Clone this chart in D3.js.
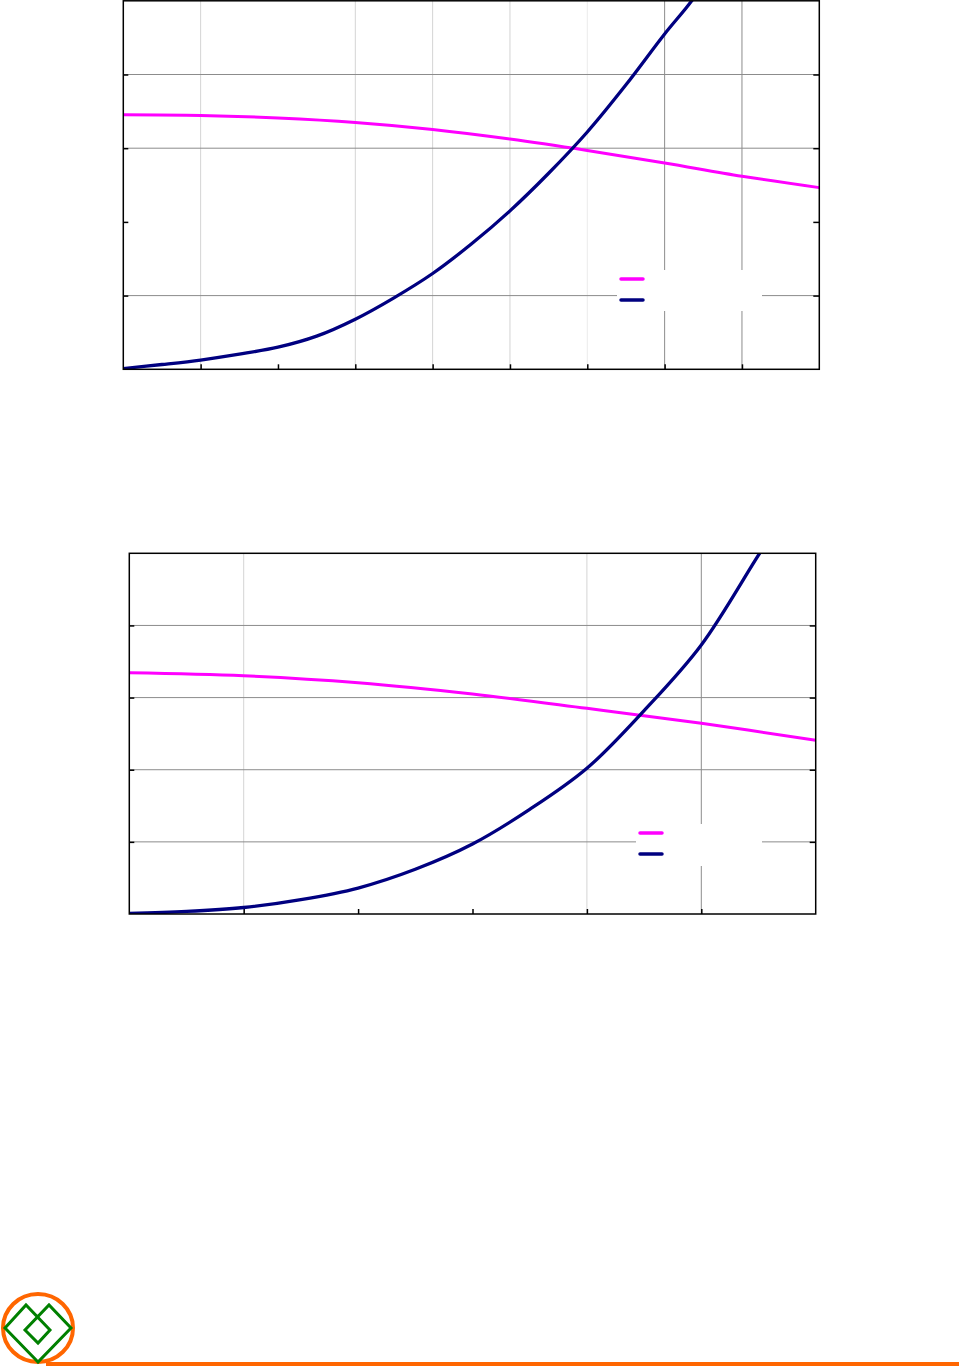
<!DOCTYPE html>
<html>
<head>
<meta charset="utf-8">
<script src="https://cdn.jsdelivr.net/npm/d3@7"></script>
<style>
  body { margin: 0; background: #fff; }
  svg { display: block; }
</style>
</head>
<body>
<div id="chart"></div>
<script>
// chart 1 (top) - values in grid units
var xTop = [0, 0.5, 1, 1.5, 2, 2.5, 3, 3.5, 4, 4.5, 5, 5.5, 6, 6.5, 7, 7.35, 7.6];
var navyTop = [0.01, 0.065, 0.126, 0.205, 0.3, 0.45, 0.68, 0.97, 1.3, 1.7, 2.15, 2.66, 3.22, 3.86, 4.55, 5.0, 5.4];
var magentaTopX = [0, 1, 2, 3, 4, 5, 6, 7, 8, 9];
var magentaTop = [3.455, 3.445, 3.41, 3.35, 3.255, 3.125, 2.97, 2.8, 2.62, 2.465];
var xGridTop = ["light", "none", "light", "light", "light", "faint", "dark", "dark"];
var yGridTop = ["dark", "none", "dark", "dark"];

// chart 2 (bottom)
var xBot = [0, 0.5, 1, 1.5, 2, 2.5, 3, 3.5, 4, 4.5, 5, 5.51, 5.7];
var navyBot = [0.01, 0.035, 0.09, 0.2, 0.36, 0.62, 0.97, 1.45, 2.02, 2.82, 3.73, 5.0, 5.45];
var magentaBotX = [0, 1, 2, 3, 4, 5, 6];
var magentaBot = [3.345, 3.303, 3.206, 3.05, 2.851, 2.643, 2.408];
var xGridBot = ["light", "none", "none", "light", "dark"];
var yGridBot = ["dark", "dark", "dark", "dark"];

var gridColor = { light: "#d4d4d4", faint: "#ececec", dark: "#8c8c8c" };

var svg = d3.select("#chart").append("svg")
  .attr("width", 959)
  .attr("height", 1367);

function drawChart(cfg) {
  var x = d3.scaleLinear().domain([0, cfg.xMax]).range([cfg.left, cfg.right]);
  var y = d3.scaleLinear().domain([0, 5]).range([cfg.bottom, cfg.top]);
  var g = svg.append("g");

  // gridlines
  d3.range(1, cfg.xMax).forEach(function (t, i) {
    var s = cfg.xGrid[i];
    if (s == "none") return;
    g.append("line")
      .attr("x1", x(t)).attr("x2", x(t))
      .attr("y1", y(0)).attr("y2", y(5))
      .attr("stroke", gridColor[s]).attr("stroke-width", 1);
  });
  d3.range(1, 5).forEach(function (t, i) {
    var s = cfg.yGrid[i];
    if (s == "none") return;
    g.append("line")
      .attr("x1", x(0)).attr("x2", x(cfg.xMax))
      .attr("y1", y(t)).attr("y2", y(t))
      .attr("stroke", gridColor[s]).attr("stroke-width", 1);
  });

  // ticks, pointing inside
  g.append("g")
    .attr("transform", "translate(0," + cfg.bottom + ")")
    .call(d3.axisBottom(x).tickValues(d3.range(1, cfg.xMax)).tickSize(-5).tickFormat(""))
    .call(function (a) { a.select(".domain").remove(); a.selectAll("line").attr("stroke-width", 1.5); });
  g.append("g")
    .attr("transform", "translate(" + cfg.left + ",0)")
    .call(d3.axisLeft(y).tickValues([1, 2, 3, 4]).tickSize(-5).tickFormat(""))
    .call(function (a) { a.select(".domain").remove(); a.selectAll("line").attr("stroke-width", 1.5); });
  g.append("g")
    .attr("transform", "translate(" + cfg.right + ",0)")
    .call(d3.axisRight(y).tickValues([1, 2, 3, 4]).tickSize(-6).tickFormat(""))
    .call(function (a) { a.select(".domain").remove(); a.selectAll("line").attr("stroke-width", 1.5); });

  // legend box (white, covers gridlines)
  g.append("rect")
    .attr("x", cfg.legend.x).attr("y", cfg.legend.y)
    .attr("width", cfg.legend.w).attr("height", cfg.legend.h)
    .attr("fill", "#fff");
  [["#ff00ff", 0], ["#000080", 1]].forEach(function (d) {
    g.append("line")
      .attr("x1", cfg.legend.x + 4).attr("x2", cfg.legend.x + 26)
      .attr("y1", cfg.legend.y + 9 + d[1] * 21).attr("y2", cfg.legend.y + 9 + d[1] * 21)
      .attr("stroke", d[0]).attr("stroke-width", 3.5)
      .attr("stroke-linecap", "round");
  });

  // clip + curves
  var clipId = "clip" + cfg.id;
  svg.append("clipPath").attr("id", clipId)
    .append("rect")
    .attr("x", cfg.left).attr("y", cfg.top)
    .attr("width", cfg.right - cfg.left).attr("height", cfg.bottom - cfg.top);

  var line = d3.line()
    .x(function (d) { return x(d[0]); })
    .y(function (d) { return y(d[1]); })
    .curve(d3.curveCatmullRom.alpha(0.5));

  g.append("path")
    .datum(d3.zip(cfg.magX, cfg.mag))
    .attr("clip-path", "url(#" + clipId + ")")
    .attr("fill", "none").attr("stroke", "#ff00ff").attr("stroke-width", 3)
    .attr("d", line);
  g.append("path")
    .datum(d3.zip(cfg.navX, cfg.nav))
    .attr("clip-path", "url(#" + clipId + ")")
    .attr("fill", "none").attr("stroke", "#000080").attr("stroke-width", 3.3)
    .attr("d", line);

  // frame
  g.append("rect")
    .attr("x", cfg.left).attr("y", cfg.top)
    .attr("width", cfg.right - cfg.left).attr("height", cfg.bottom - cfg.top)
    .attr("fill", "none").attr("stroke", "#000").attr("stroke-width", 1.5);
}

drawChart({
  id: 1, left: 123.3, right: 819.3, top: 0.8, bottom: 369.3, xMax: 9,
  xGrid: xGridTop, yGrid: yGridTop,
  magX: magentaTopX, mag: magentaTop, navX: xTop, nav: navyTop,
  legend: { x: 617, y: 270, w: 145, h: 41 }
});

drawChart({
  id: 2, left: 129.3, right: 815.7, top: 553.3, bottom: 914, xMax: 6,
  xGrid: xGridBot, yGrid: yGridBot,
  magX: magentaBotX, mag: magentaBot, navX: xBot, nav: navyBot,
  legend: { x: 636, y: 824, w: 126, h: 42 }
});

// footer logo
var logo = svg.append("g");
logo.append("line")
  .attr("x1", 46).attr("x2", 959).attr("y1", 1364).attr("y2", 1364)
  .attr("stroke", "#ff6600").attr("stroke-width", 4);
logo.append("ellipse")
  .attr("cx", 38).attr("cy", 1328).attr("rx", 35).attr("ry", 34)
  .attr("fill", "none").attr("stroke", "#ff6600").attr("stroke-width", 4);
logo.append("path")
  .attr("d", "M38,1362 L5,1328 L26,1305 L50,1330 L38,1343 L25,1330 L49,1305 L71,1328 Z")
  .attr("fill", "none").attr("stroke", "#008000").attr("stroke-width", 3)
  .attr("stroke-linejoin", "miter");
</script>
</body>
</html>
